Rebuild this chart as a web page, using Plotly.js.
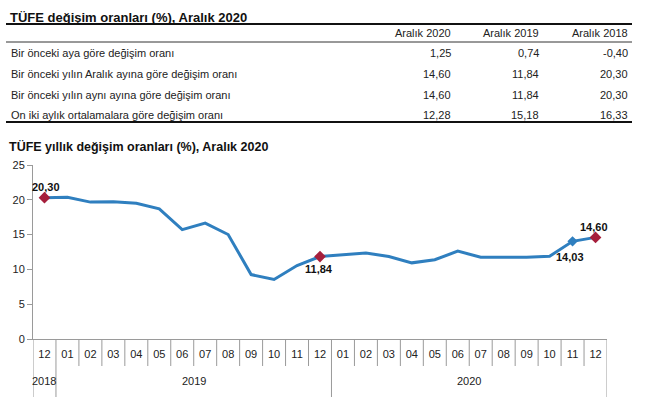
<!DOCTYPE html>
<html>
<head>
<meta charset="utf-8">
<script src="https://cdn.plot.ly/plotly-3.0.1.min.js"></script>
<style>html,body{margin:0;padding:0;background:#fff;}#chart{width:652px;height:400px;}</style>
</head>
<body>
<div id="chart"></div>
<script>
// ---- Data ----
var tableTitle = "TÜFE değişim oranları (%), Aralık 2020";
var tableHeaders = ["Aralık 2020", "Aralık 2019", "Aralık 2018"];
var tableRowLabels = [
  "Bir önceki aya göre değişim oranı",
  "Bir önceki yılın Aralık ayına göre değişim oranı",
  "Bir önceki yılın aynı ayına göre değişim oranı",
  "On iki aylık ortalamalara göre değişim oranı"
];
var col2020 = [1.25, 14.60, 14.60, 12.28];
var col2019 = [0.74, 11.84, 11.84, 15.18];
var col2018 = [-0.40, 20.30, 20.30, 16.33];

var chartTitle = "TÜFE yıllık değişim oranları (%), Aralık 2020";
var monthLabels = ["12","01","02","03","04","05","06","07","08","09","10","11","12",
                   "01","02","03","04","05","06","07","08","09","10","11","12"];
var yearLabels = ["2018", "2019", "2020"];
var yearMonthCounts = [1, 12, 12];
var annualRate = [20.30, 20.35, 19.67, 19.71, 19.50, 18.71, 15.72, 16.65, 15.01, 9.26, 8.55, 10.56, 11.84,
                  12.15, 12.37, 11.86, 10.94, 11.39, 12.62, 11.76, 11.77, 11.75, 11.89, 14.03, 14.60];
var redPoints = [0, 12, 24];
var bluePoints = [23];

// ---- Layout helpers ----
var W = 652, H = 400;
var L = 33, R = 45, T = 165, B = 61;
var pw = W - L - R, ph = H - T - B;
function px(x) { return (x - L) / pw; }
function py(y) { return (H - B - y) / ph; }
function fmt(v) { return v.toFixed(2).replace('.', ','); }

var FONT = "Liberation Sans, Arial, sans-serif";
var LINE = "#2f7fbf", RED = "#a61f3c", GRID = "#9a9a9a";

var xs = annualRate.map(function (_, i) { return i; });

var traces = [
  { x: xs, y: annualRate, type: "scatter", mode: "lines",
    line: { color: LINE, width: 3 }, hoverinfo: "skip", showlegend: false },
  { x: bluePoints, y: bluePoints.map(function (i) { return annualRate[i]; }), type: "scatter", mode: "markers",
    marker: { symbol: "diamond", size: 8, color: LINE }, showlegend: false },
  { x: redPoints, y: redPoints.map(function (i) { return annualRate[i]; }), type: "scatter", mode: "markers",
    marker: { symbol: "diamond", size: 9, color: RED }, showlegend: false }
];

var annotations = [];
var shapes = [];

// Table title & lines
annotations.push({ text: "<b>" + tableTitle + "</b>", xref: "paper", yref: "paper",
  x: px(8), y: py(17), xanchor: "left", yanchor: "middle", showarrow: false,
  font: { family: FONT, size: 13, color: "#111" } });
shapes.push({ type: "line", xref: "paper", yref: "paper", x0: px(6), x1: px(632), y0: py(24), y1: py(24), line: { color: "#111", width: 2 } });
shapes.push({ type: "line", xref: "paper", yref: "paper", x0: px(6), x1: px(632), y0: py(42), y1: py(42), line: { color: "#333", width: 1 } });
shapes.push({ type: "line", xref: "paper", yref: "paper", x0: px(6), x1: px(632), y0: py(122), y1: py(122), line: { color: "#111", width: 2 } });

var colRight = [453, 541, 630];
var cols = [col2020, col2019, col2018];
tableHeaders.forEach(function (h, j) {
  annotations.push({ text: h, xref: "paper", yref: "paper", x: px(colRight[j]), y: py(33),
    xanchor: "right", yanchor: "middle", showarrow: false, font: { family: FONT, size: 11, color: "#222" } });
});
var rowY = [53, 74, 95, 115];
tableRowLabels.forEach(function (lab, i) {
  annotations.push({ text: lab, xref: "paper", yref: "paper", x: px(9), y: py(rowY[i]),
    xanchor: "left", yanchor: "middle", showarrow: false, font: { family: FONT, size: 11, color: "#222" } });
  cols.forEach(function (c, j) {
    annotations.push({ text: fmt(c[i]), xref: "paper", yref: "paper", x: px(colRight[j]), y: py(rowY[i]),
      xanchor: "right", yanchor: "middle", showarrow: false, font: { family: FONT, size: 11, color: "#222" } });
  });
});

// Chart title
annotations.push({ text: "<b>" + chartTitle + "</b>", xref: "paper", yref: "paper",
  x: px(7), y: py(146), xanchor: "left", yanchor: "middle", showarrow: false,
  font: { family: FONT, size: 12.5, color: "#111" } });

// Category box lines
var yearBounds = [-0.5];
var acc = -0.5;
yearMonthCounts.forEach(function (n) { acc += n; yearBounds.push(acc); });
for (var k = 0; k <= monthLabels.length; k++) {
  var xb = k - 0.5;
  var isYear = yearBounds.indexOf(xb) >= 0;
  shapes.push({ type: "line", xref: "x", yref: "paper", x0: xb, x1: xb, y0: 0, y1: py(isYear ? 397 : 366),
    line: { color: GRID, width: 1 } });
}
// Year labels
var start = 0;
yearLabels.forEach(function (yl, j) {
  var n = yearMonthCounts[j];
  annotations.push({ text: yl, xref: "x", yref: "paper", x: start + (n - 1) / 2, y: py(381),
    xanchor: "center", yanchor: "middle", showarrow: false, font: { family: FONT, size: 11, color: "#222" } });
  start += n;
});

// Data labels
var labelSpecs = [
  { i: 0, ys: 11, xs: 2 },
  { i: 12, ys: -12, xs: -1 },
  { i: 23, ys: -16, xs: -3 },
  { i: 24, ys: 10, xs: -2 }
];
labelSpecs.forEach(function (s) {
  annotations.push({ text: "<b>" + fmt(annualRate[s.i]) + "</b>", xref: "x", yref: "y", x: s.i, y: annualRate[s.i],
    yshift: s.ys, xshift: s.xs, xanchor: "center", yanchor: "middle", showarrow: false,
    font: { family: FONT, size: 11, color: "#111" } });
});

var layout = {
  width: W, height: H,
  margin: { l: L, r: R, t: T, b: B, pad: 0 },
  paper_bgcolor: "#fff", plot_bgcolor: "#fff",
  font: { family: FONT, size: 11, color: "#222" },
  showlegend: false,
  xaxis: {
    range: [-0.5, monthLabels.length - 0.5], tickmode: "array", tickvals: xs, ticktext: monthLabels,
    showgrid: false, zeroline: false, showline: true, linecolor: GRID, linewidth: 1,
    ticks: "outside", ticklen: 5, tickcolor: "rgba(0,0,0,0)",
    tickfont: { family: FONT, size: 11, color: "#222" }, fixedrange: true
  },
  yaxis: {
    range: [0, 25], dtick: 5, showgrid: false, zeroline: false, showline: true, linecolor: GRID, linewidth: 1,
    ticks: "outside", ticklen: 5, tickcolor: GRID,
    tickfont: { family: FONT, size: 11, color: "#222" }, fixedrange: true
  },
  annotations: annotations,
  shapes: shapes
};

Plotly.newPlot("chart", traces, layout, { staticPlot: true, displayModeBar: false });
</script>
</body>
</html>
